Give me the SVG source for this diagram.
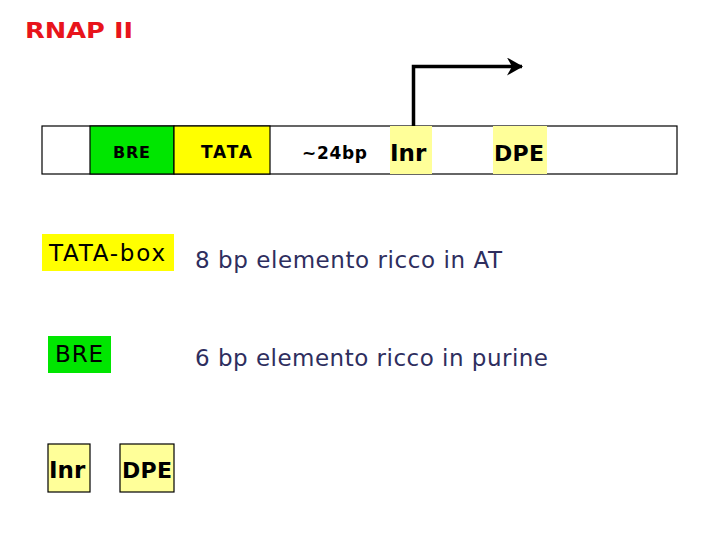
<svg xmlns="http://www.w3.org/2000/svg" width="720" height="540" viewBox="0 0 720 540">
<defs>
<style>
.b{stroke:#000;stroke-width:1.2}
.t{font-family:"DejaVu Sans",Verdana,sans-serif;fill:#000}
.bd{font-weight:bold}
.d{font-family:"DejaVu Sans",Verdana,sans-serif;fill:#2e2e5e;font-size:23px}
.ye{fill:#ffff00}
.py{fill:#ffff99}
.gr{fill:#00e600}
</style>
<marker id="ah" viewBox="0 0 16 18" refX="15" refY="9" markerWidth="16" markerHeight="18" markerUnits="userSpaceOnUse" orient="auto">
<path d="M0,0 L16,9 L0,18 L5,9 Z" fill="#000"/>
</marker>
<clipPath id="cInr"><rect x="390" y="126" width="42" height="48"/></clipPath>
<clipPath id="cInr2"><rect x="48" y="444" width="42" height="48"/></clipPath>
</defs>
<text x="25" y="38" font-family="'DejaVu Sans',Verdana,sans-serif" font-weight="bold" font-size="22" fill="#e8141b" textLength="108" lengthAdjust="spacingAndGlyphs">RNAP II</text>
<g id="strand">
<rect x="42" y="126" width="635" height="48" fill="#fff" class="b"/>
</g>
<g id="bre-top">
<rect x="90" y="126" width="84" height="48" class="gr b"/>
<text x="113" y="158" class="t bd" font-size="16" fill="#113311" textLength="37">BRE</text>
</g>
<g id="tata-top">
<rect x="174" y="126" width="96" height="48" class="ye b"/>
<text x="201" y="158" class="t bd" font-size="17" textLength="51">TATA</text>
</g>
<g id="spacer">
<text x="302" y="159" class="t bd" font-size="17" textLength="65">~24bp</text>
</g>
<g id="inr-top">
<rect x="390" y="126" width="42" height="48" class="py"/>
<text x="390" y="161" class="t bd" font-size="23" clip-path="url(#cInr)">Inr</text>
</g>
<g id="dpe-top">
<rect x="493" y="126" width="54" height="48" class="py"/>
<text x="494" y="161" class="t bd" font-size="22" textLength="50">DPE</text>
</g>
<g id="connectors">
<path d="M413.5,126 V66.5 H522" fill="none" stroke="#000" stroke-width="3.5" marker-end="url(#ah)"/>
</g>
<g id="tata-box">
<rect x="42" y="234" width="132" height="37" class="ye"/>
<text x="49" y="261" class="t" font-size="23" textLength="116">TATA-box</text>
</g>
<text x="195" y="268" class="d" textLength="307">8 bp elemento ricco in AT</text>
<g id="bre">
<rect x="48" y="336" width="63" height="37" class="gr"/>
<text x="55" y="362" class="t" font-size="23" textLength="48">BRE</text>
</g>
<text x="195" y="366" class="d" textLength="353">6 bp elemento ricco in purine</text>
<g id="inr">
<rect x="48" y="444" width="42" height="48" class="py b"/>
<text x="49" y="478" class="t bd" font-size="23" clip-path="url(#cInr2)">Inr</text>
</g>
<g id="dpe">
<rect x="120" y="444" width="54" height="48" class="py b"/>
<text x="122" y="478" class="t bd" font-size="22" textLength="50">DPE</text>
</g>
</svg>
